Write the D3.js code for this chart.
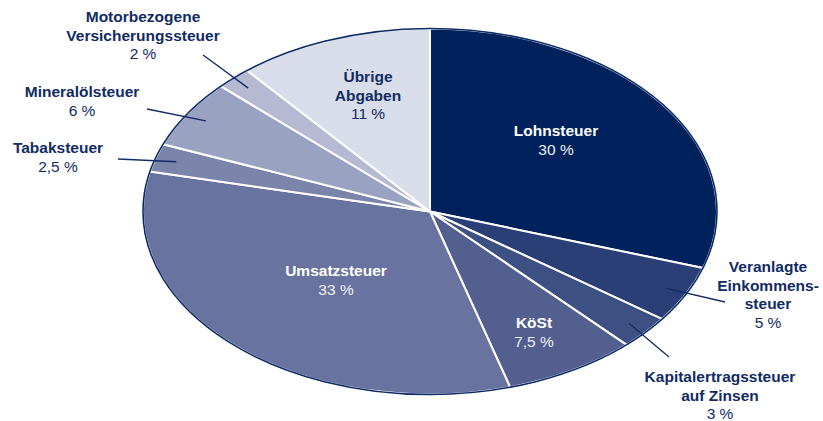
<!DOCTYPE html>
<html>
<head>
<meta charset="utf-8">
<script src="https://cdn.jsdelivr.net/npm/d3@7/dist/d3.min.js"></script>
<style>
  body { margin: 0; background: #fff; }
  text { font-family: "Liberation Sans", Arial, Helvetica, sans-serif; }
</style>
</head>
<body>
<svg id="chart" width="823" height="421"></svg>
<script>
// tax shares, clockwise from 12 o'clock
var taxNames = [
  ["Lohnsteuer"],
  ["Veranlagte", "Einkommens-", "steuer"],
  ["Kapitalertragssteuer", "auf Zinsen"],
  ["KöSt"],
  ["Umsatzsteuer"],
  ["Tabaksteuer"],
  ["Mineralölsteuer"],
  ["Motorbezogene", "Versicherungssteuer"],
  ["Übrige", "Abgaben"]
];
var shares = [30, 5, 3, 7.5, 33, 2.5, 6, 2, 11];
var shareLabels = ["30 %", "5 %", "3 %", "7,5 %", "33 %", "2,5 %", "6 %", "2 %", "11 %"];

var colors = ["#00225c", "#2b3f77", "#3d5084", "#525f8f", "#69739f",
              "#7b85ab", "#99a2c0", "#b5bad2", "#d9dce9"];

// label layout: text anchor point, whether text sits inside the slice, outer end of leader
var labelLayout = [
  {x: 556, y: 136, inside: true,  white: true},
  {x: 768, y: 272, inside: false, lx: 725, ly: 302},
  {x: 720, y: 382, inside: false, lx: 669, ly: 357},
  {x: 534, y: 328, inside: true,  white: true},
  {x: 336, y: 276, inside: true,  white: true},
  {x: 58,  y: 153, inside: false, lx: 118, ly: 159},
  {x: 82,  y: 97,  inside: false, lx: 147, ly: 109},
  {x: 143, y: 22,  inside: false, lx: 203, ly: 55},
  {x: 368, y: 82,  inside: true,  white: false}
];

var cx = 430, cy = 211.5, rx = 287, ry = 183;
var navy = "#112b63";
var lineH = 18.5;

var svg = d3.select("#chart");

var pie = d3.pie().sort(null).value(d => d);
var arcs = pie(shares);

var arc = d3.arc().innerRadius(0).outerRadius(1);

var g = svg.append("g")
  .attr("transform", "translate(" + cx + "," + cy + ") scale(" + rx + "," + ry + ")");

g.selectAll("path")
  .data(arcs)
  .enter()
  .append("path")
    .attr("d", arc)
    .attr("fill", (d, i) => colors[i])
    .attr("stroke", "#fff")
    .attr("stroke-width", 2)
    .attr("stroke-linejoin", "round")
    .attr("vector-effect", "non-scaling-stroke");

// dark outline round the ellipse
svg.append("ellipse")
  .attr("cx", cx).attr("cy", cy)
  .attr("rx", rx).attr("ry", ry)
  .attr("fill", "none")
  .attr("stroke", "#0b2a66")
  .attr("stroke-width", 1.6);

// leader lines for the outside labels
arcs.forEach(function(d, i) {
  var lay = labelLayout[i];
  if (lay.inside) return;
  var a = (d.startAngle + d.endAngle) / 2;
  var px = cx + rx * 0.925 * Math.sin(a);
  var py = cy - ry * 0.925 * Math.cos(a);
  svg.append("line")
    .attr("x1", lay.lx).attr("y1", lay.ly)
    .attr("x2", px).attr("y2", py)
    .attr("stroke", navy)
    .attr("stroke-width", 1.3);
});

// labels
arcs.forEach(function(d, i) {
  var lay = labelLayout[i];
  var col = lay.white ? "#fff" : navy;
  var t = svg.append("text")
    .attr("text-anchor", "middle")
    .attr("font-size", "15.5px")
    .attr("fill", col);
  taxNames[i].forEach(function(line, j) {
    t.append("tspan")
      .attr("x", lay.x)
      .attr("y", lay.y + j * lineH)
      .attr("font-weight", "bold")
      .text(line);
  });
  t.append("tspan")
    .attr("x", lay.x)
    .attr("y", lay.y + taxNames[i].length * lineH)
    .attr("fill", lay.white ? "#eef0f6" : col)
    .text(shareLabels[i]);
});
</script>
</body>
</html>
